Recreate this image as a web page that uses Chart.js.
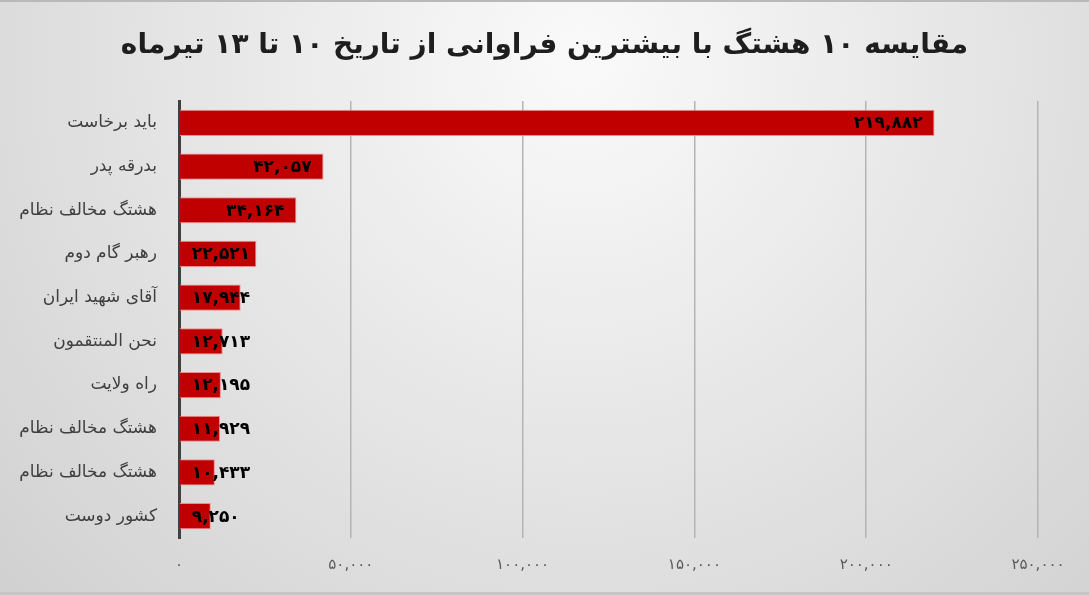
<!DOCTYPE html>
<html>
<head>
<meta charset="utf-8">
<script src="https://cdn.jsdelivr.net/npm/chart.js@4"></script>
<style>
    html, body { margin: 0; padding: 0; background: #e0e0e0; }
    #wrap { width: 1089px; height: 595px; position: relative; }
</style>
</head>
<body>
<div id="wrap"><canvas id="hashtags"></canvas></div>
<script>
const titleText = 'مقایسه ۱۰ هشتگ با بیشترین فراوانی از تاریخ ۱۰ تا ۱۳ تیرماه';

const hashtags = [
    'باید برخاست',
    'بدرقه پدر',
    'هشتگ مخالف نظام',
    'رهبر گام دوم',
    'آقای شهید ایران',
    'نحن المنتقمون',
    'راه ولایت',
    'هشتگ مخالف نظام',
    'هشتگ مخالف نظام',
    'کشور دوست'
];

const counts = [219882, 42057, 34164, 22521, 17944, 12713, 12195, 11929, 10433, 9250];

const axisMax = 250000;
const axisStep = 50000;

const fontFamily = '"DejaVu Sans", sans-serif';

// ارقام فارسی با جداکننده هزارگان
const toPersian = (n) => {
    const s = Math.round(n).toString().replace(/\B(?=(\d{3})+(?!\d))/g, ',');
    return s.replace(/\d/g, (d) => '۰۱۲۳۴۵۶۷۸۹'[d]);
};

const backgroundPlugin = {
    id: 'background',
    beforeDraw: (chart) => {
        const { ctx, width, height } = chart;
        ctx.save();
        const g = ctx.createRadialGradient(580, 60, 20, 580, 60, 820);
        g.addColorStop(0, '#f9f9f9');
        g.addColorStop(1, '#cfcfcf');
        ctx.fillStyle = g;
        ctx.fillRect(0, 0, width, height);
        ctx.fillStyle = '#b9b9b9';
        ctx.fillRect(0, 0, width, 2);
        ctx.fillStyle = '#c6c6c6';
        ctx.fillRect(0, height - 3, width, 3);
        ctx.restore();
    },
    // عنوان وسط کل صفحه
    afterDraw: (chart) => {
        const { ctx, width } = chart;
        ctx.save();
        ctx.font = 'bold 28px ' + fontFamily;
        ctx.fillStyle = '#1e1e1e';
        ctx.textAlign = 'center';
        ctx.textBaseline = 'middle';
        ctx.direction = 'rtl';
        ctx.fillText(titleText, width / 2, 46);
        ctx.restore();
    }
};

const valueLabelsPlugin = {
    id: 'valueLabels',
    afterDatasetsDraw: (chart) => {
        const { ctx } = chart;
        const meta = chart.getDatasetMeta(0);
        ctx.save();
        ctx.font = 'bold 17px ' + fontFamily;
        ctx.fillStyle = '#000000';
        ctx.textAlign = 'left';
        ctx.textBaseline = 'middle';
        meta.data.forEach((bar, i) => {
            const text = toPersian(counts[i]);
            const w = ctx.measureText(text).width;
            const x = Math.max(bar.base + 12, bar.x - 12 - w);
            ctx.fillText(text, x, bar.y + 1);
        });
        ctx.restore();
    }
};

const hashtagData = {
    labels: hashtags,
    datasets: [{
        label: 'فراوانی',
        data: counts,
        backgroundColor: '#c00000',
        borderColor: '#f28b8b',
        borderWidth: 1,
        borderSkipped: 'start',
        barPercentage: 0.6,
        categoryPercentage: 1.0
    }]
};

new Chart(document.getElementById('hashtags'), {
    type: 'bar',
    data: hashtagData,
    plugins: [backgroundPlugin, valueLabelsPlugin],
    options: {
        indexAxis: 'y',
        responsive: true,
        maintainAspectRatio: false,
        animation: false,
        layout: { padding: { left: 0, right: 51, top: 101, bottom: 0 } },
        plugins: {
            legend: { display: false },
            tooltip: { enabled: false },
            title: { display: false }
        },
        scales: {
            x: {
                min: 0,
                max: axisMax,
                ticks: {
                    stepSize: axisStep,
                    padding: 18,
                    color: '#595959',
                    font: { family: fontFamily, size: 15 },
                    callback: (v) => toPersian(v)
                },
                grid: { color: '#b4b4b4', lineWidth: 1.5, drawTicks: false },
                border: { display: false },
                afterFit: (scale) => { scale.height = 57; }
            },
            y: {
                ticks: {
                    padding: 22,
                    color: '#404040',
                    font: { family: fontFamily, size: 17 }
                },
                grid: { display: false, drawTicks: false },
                border: { display: true, color: '#404040', width: 3 },
                afterFit: (scale) => { scale.width = 179; }
            }
        }
    }
});
</script>
</body>
</html>
